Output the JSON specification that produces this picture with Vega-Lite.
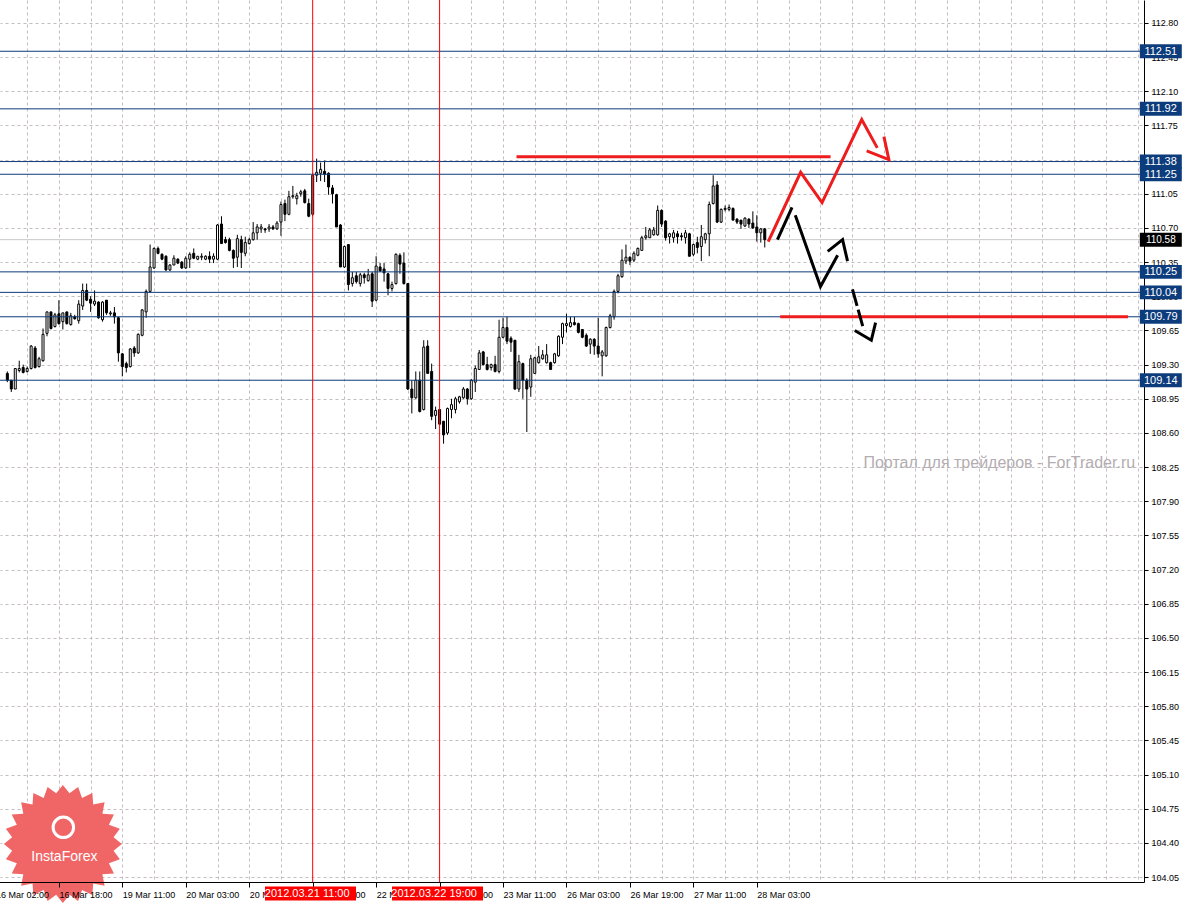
{
  "$schema": "https://vega.github.io/schema/vega-lite/v6.json",
  "autosize": {"type": "none"},
  "padding": {"left": 0, "top": 0, "right": 43, "bottom": 21},
  "width": 1144,
  "height": 882,
  "background": "white",
  "config": {"view": {"stroke": null}, "font": "Liberation Sans"},
  "resolve": {"axis": {"x": "independent"}},
  "datasets": {
    "candles": [
      {"k":0,"o":109.21,"h":109.23,"l":109.12,"c":109.14},
      {"k":1,"o":109.14,"h":109.14,"l":109.02,"c":109.05},
      {"k":2,"o":109.05,"h":109.26,"l":109.05,"c":109.26},
      {"k":3,"o":109.24,"h":109.34,"l":109.22,"c":109.26},
      {"k":4,"o":109.27,"h":109.30,"l":109.21,"c":109.22},
      {"k":5,"o":109.23,"h":109.28,"l":109.22,"c":109.26},
      {"k":6,"o":109.26,"h":109.50,"l":109.25,"c":109.49},
      {"k":7,"o":109.47,"h":109.49,"l":109.26,"c":109.27},
      {"k":8,"o":109.28,"h":109.38,"l":109.27,"c":109.36},
      {"k":9,"o":109.34,"h":109.67,"l":109.33,"c":109.61},
      {"k":10,"o":109.62,"h":109.84,"l":109.59,"c":109.84},
      {"k":11,"o":109.84,"h":109.84,"l":109.66,"c":109.67},
      {"k":12,"o":109.69,"h":109.83,"l":109.68,"c":109.81},
      {"k":13,"o":109.82,"h":109.96,"l":109.71,"c":109.72},
      {"k":14,"o":109.74,"h":109.83,"l":109.66,"c":109.83},
      {"k":15,"o":109.84,"h":109.84,"l":109.71,"c":109.72},
      {"k":16,"o":109.71,"h":109.83,"l":109.70,"c":109.80},
      {"k":17,"o":109.79,"h":109.81,"l":109.76,"c":109.77},
      {"k":18,"o":109.75,"h":109.96,"l":109.72,"c":109.92},
      {"k":19,"o":109.90,"h":110.13,"l":109.86,"c":110.06},
      {"k":20,"o":110.06,"h":110.13,"l":109.95,"c":109.96},
      {"k":21,"o":109.97,"h":110.00,"l":109.84,"c":109.93},
      {"k":22,"o":109.92,"h":110.06,"l":109.90,"c":109.95},
      {"k":23,"o":109.94,"h":109.95,"l":109.77,"c":109.78},
      {"k":24,"o":109.76,"h":109.95,"l":109.74,"c":109.94},
      {"k":25,"o":109.96,"h":109.96,"l":109.81,"c":109.83},
      {"k":26,"o":109.82,"h":109.85,"l":109.80,"c":109.83},
      {"k":27,"o":109.83,"h":109.89,"l":109.72,"c":109.79},
      {"k":28,"o":109.78,"h":109.79,"l":109.33,"c":109.42},
      {"k":29,"o":109.41,"h":109.42,"l":109.18,"c":109.28},
      {"k":30,"o":109.31,"h":109.33,"l":109.22,"c":109.27},
      {"k":31,"o":109.28,"h":109.47,"l":109.27,"c":109.46},
      {"k":32,"o":109.47,"h":109.49,"l":109.38,"c":109.42},
      {"k":33,"o":109.42,"h":109.62,"l":109.41,"c":109.61},
      {"k":34,"o":109.60,"h":109.87,"l":109.59,"c":109.86},
      {"k":35,"o":109.84,"h":110.07,"l":109.78,"c":110.05},
      {"k":36,"o":110.05,"h":110.53,"l":110.04,"c":110.30},
      {"k":37,"o":110.29,"h":110.50,"l":110.28,"c":110.49},
      {"k":38,"o":110.49,"h":110.51,"l":110.43,"c":110.44},
      {"k":39,"o":110.43,"h":110.44,"l":110.37,"c":110.38},
      {"k":40,"o":110.41,"h":110.42,"l":110.26,"c":110.27},
      {"k":41,"o":110.27,"h":110.33,"l":110.26,"c":110.32},
      {"k":42,"o":110.32,"h":110.42,"l":110.32,"c":110.39},
      {"k":43,"o":110.38,"h":110.39,"l":110.33,"c":110.34},
      {"k":44,"o":110.35,"h":110.36,"l":110.28,"c":110.29},
      {"k":45,"o":110.29,"h":110.41,"l":110.28,"c":110.39},
      {"k":46,"o":110.38,"h":110.45,"l":110.29,"c":110.43},
      {"k":47,"o":110.44,"h":110.49,"l":110.38,"c":110.39},
      {"k":48,"o":110.38,"h":110.41,"l":110.37,"c":110.41},
      {"k":49,"o":110.40,"h":110.44,"l":110.37,"c":110.41},
      {"k":50,"o":110.38,"h":110.42,"l":110.37,"c":110.41},
      {"k":51,"o":110.41,"h":110.46,"l":110.34,"c":110.38},
      {"k":52,"o":110.38,"h":110.44,"l":110.34,"c":110.41},
      {"k":53,"o":110.38,"h":110.74,"l":110.37,"c":110.73},
      {"k":54,"o":110.74,"h":110.82,"l":110.54,"c":110.54},
      {"k":55,"o":110.58,"h":110.61,"l":110.54,"c":110.55},
      {"k":56,"o":110.58,"h":110.60,"l":110.46,"c":110.47},
      {"k":57,"o":110.47,"h":110.48,"l":110.29,"c":110.39},
      {"k":58,"o":110.40,"h":110.63,"l":110.30,"c":110.59},
      {"k":59,"o":110.58,"h":110.62,"l":110.29,"c":110.45},
      {"k":60,"o":110.44,"h":110.61,"l":110.41,"c":110.55},
      {"k":61,"o":110.54,"h":110.60,"l":110.53,"c":110.58},
      {"k":62,"o":110.58,"h":110.76,"l":110.57,"c":110.65},
      {"k":63,"o":110.65,"h":110.74,"l":110.58,"c":110.71},
      {"k":64,"o":110.69,"h":110.74,"l":110.65,"c":110.71},
      {"k":65,"o":110.69,"h":110.70,"l":110.65,"c":110.68},
      {"k":66,"o":110.69,"h":110.74,"l":110.66,"c":110.71},
      {"k":67,"o":110.71,"h":110.73,"l":110.68,"c":110.69},
      {"k":68,"o":110.69,"h":110.77,"l":110.68,"c":110.75},
      {"k":69,"o":110.76,"h":110.97,"l":110.62,"c":110.94},
      {"k":70,"o":110.95,"h":110.99,"l":110.77,"c":110.84},
      {"k":71,"o":110.84,"h":111.08,"l":110.83,"c":111.02},
      {"k":72,"o":111.02,"h":111.13,"l":111.00,"c":111.03},
      {"k":73,"o":111.00,"h":111.06,"l":110.94,"c":111.03},
      {"k":74,"o":111.05,"h":111.09,"l":111.02,"c":111.07},
      {"k":75,"o":111.08,"h":111.10,"l":110.95,"c":110.96},
      {"k":76,"o":110.95,"h":111.00,"l":110.81,"c":110.82},
      {"k":77,"o":110.84,"h":111.26,"l":110.82,"c":111.24},
      {"k":78,"o":111.24,"h":111.41,"l":111.17,"c":111.27},
      {"k":79,"o":111.26,"h":111.37,"l":111.18,"c":111.30},
      {"k":80,"o":111.28,"h":111.39,"l":111.17,"c":111.25},
      {"k":81,"o":111.26,"h":111.27,"l":111.04,"c":111.12},
      {"k":82,"o":111.11,"h":111.14,"l":110.95,"c":111.05},
      {"k":83,"o":111.04,"h":111.05,"l":110.71,"c":110.71},
      {"k":84,"o":110.73,"h":110.74,"l":110.30,"c":110.30},
      {"k":85,"o":110.30,"h":110.52,"l":110.29,"c":110.51},
      {"k":86,"o":110.53,"h":110.53,"l":110.06,"c":110.12},
      {"k":87,"o":110.13,"h":110.25,"l":110.10,"c":110.19},
      {"k":88,"o":110.21,"h":110.25,"l":110.13,"c":110.15},
      {"k":89,"o":110.13,"h":110.24,"l":110.10,"c":110.22},
      {"k":90,"o":110.22,"h":110.24,"l":110.13,"c":110.19},
      {"k":91,"o":110.16,"h":110.28,"l":110.15,"c":110.22},
      {"k":92,"o":110.23,"h":110.25,"l":109.89,"c":109.95},
      {"k":93,"o":109.96,"h":110.41,"l":109.95,"c":110.31},
      {"k":94,"o":110.30,"h":110.34,"l":110.25,"c":110.26},
      {"k":95,"o":110.28,"h":110.34,"l":110.15,"c":110.24},
      {"k":96,"o":110.23,"h":110.24,"l":110.01,"c":110.08},
      {"k":97,"o":110.08,"h":110.15,"l":110.05,"c":110.12},
      {"k":98,"o":110.13,"h":110.44,"l":110.12,"c":110.43},
      {"k":99,"o":110.42,"h":110.44,"l":110.23,"c":110.33},
      {"k":100,"o":110.34,"h":110.45,"l":110.12,"c":110.13},
      {"k":101,"o":110.13,"h":110.13,"l":109.04,"c":109.05},
      {"k":102,"o":109.05,"h":109.14,"l":108.80,"c":108.96},
      {"k":103,"o":108.96,"h":109.23,"l":108.95,"c":109.14},
      {"k":104,"o":109.14,"h":109.23,"l":108.81,"c":108.82},
      {"k":105,"o":108.84,"h":109.55,"l":108.83,"c":109.48},
      {"k":106,"o":109.49,"h":109.55,"l":109.21,"c":109.21},
      {"k":107,"o":109.23,"h":109.31,"l":108.73,"c":108.77},
      {"k":108,"o":108.78,"h":108.87,"l":108.64,"c":108.83},
      {"k":109,"o":108.84,"h":108.84,"l":108.68,"c":108.69},
      {"k":110,"o":108.72,"h":108.72,"l":108.49,"c":108.58},
      {"k":111,"o":108.60,"h":108.86,"l":108.58,"c":108.85},
      {"k":112,"o":108.84,"h":108.95,"l":108.75,"c":108.89},
      {"k":113,"o":108.84,"h":108.97,"l":108.80,"c":108.95},
      {"k":114,"o":108.92,"h":108.98,"l":108.90,"c":108.97},
      {"k":115,"o":108.96,"h":109.07,"l":108.95,"c":109.05},
      {"k":116,"o":109.05,"h":109.06,"l":108.89,"c":108.95},
      {"k":117,"o":108.95,"h":109.15,"l":108.94,"c":109.14},
      {"k":118,"o":109.12,"h":109.29,"l":109.02,"c":109.26},
      {"k":119,"o":109.25,"h":109.45,"l":109.25,"c":109.42},
      {"k":120,"o":109.43,"h":109.44,"l":109.29,"c":109.30},
      {"k":121,"o":109.30,"h":109.38,"l":109.24,"c":109.25},
      {"k":122,"o":109.27,"h":109.31,"l":109.24,"c":109.30},
      {"k":123,"o":109.30,"h":109.39,"l":109.22,"c":109.23},
      {"k":124,"o":109.23,"h":109.76,"l":109.21,"c":109.58},
      {"k":125,"o":109.58,"h":109.78,"l":109.57,"c":109.68},
      {"k":126,"o":109.68,"h":109.79,"l":109.51,"c":109.54},
      {"k":127,"o":109.57,"h":109.59,"l":109.43,"c":109.53},
      {"k":128,"o":109.55,"h":109.55,"l":109.04,"c":109.05},
      {"k":129,"o":109.05,"h":109.40,"l":109.02,"c":109.33},
      {"k":130,"o":109.31,"h":109.32,"l":108.95,"c":109.14},
      {"k":131,"o":109.14,"h":109.16,"l":108.61,"c":109.05},
      {"k":132,"o":109.07,"h":109.40,"l":108.97,"c":109.36},
      {"k":133,"o":109.21,"h":109.38,"l":109.21,"c":109.37},
      {"k":134,"o":109.32,"h":109.49,"l":109.31,"c":109.38},
      {"k":135,"o":109.36,"h":109.45,"l":109.35,"c":109.40},
      {"k":136,"o":109.32,"h":109.51,"l":109.31,"c":109.40},
      {"k":137,"o":109.32,"h":109.33,"l":109.25,"c":109.25},
      {"k":138,"o":109.32,"h":109.42,"l":109.31,"c":109.41},
      {"k":139,"o":109.39,"h":109.60,"l":109.38,"c":109.59},
      {"k":140,"o":109.58,"h":109.73,"l":109.51,"c":109.72},
      {"k":141,"o":109.70,"h":109.82,"l":109.63,"c":109.72},
      {"k":142,"o":109.69,"h":109.79,"l":109.68,"c":109.73},
      {"k":143,"o":109.73,"h":109.79,"l":109.70,"c":109.71},
      {"k":144,"o":109.72,"h":109.73,"l":109.62,"c":109.63},
      {"k":145,"o":109.66,"h":109.66,"l":109.57,"c":109.58},
      {"k":146,"o":109.60,"h":109.62,"l":109.48,"c":109.49},
      {"k":147,"o":109.51,"h":109.57,"l":109.41,"c":109.56},
      {"k":148,"o":109.56,"h":109.57,"l":109.40,"c":109.49},
      {"k":149,"o":109.49,"h":109.78,"l":109.37,"c":109.41},
      {"k":150,"o":109.39,"h":109.45,"l":109.18,"c":109.43},
      {"k":151,"o":109.39,"h":109.69,"l":109.38,"c":109.68},
      {"k":152,"o":109.68,"h":109.82,"l":109.67,"c":109.80},
      {"k":153,"o":109.79,"h":110.07,"l":109.76,"c":110.05},
      {"k":154,"o":110.05,"h":110.23,"l":110.03,"c":110.21},
      {"k":155,"o":110.20,"h":110.48,"l":110.19,"c":110.37},
      {"k":156,"o":110.36,"h":110.53,"l":110.33,"c":110.40},
      {"k":157,"o":110.40,"h":110.41,"l":110.32,"c":110.36},
      {"k":158,"o":110.37,"h":110.46,"l":110.35,"c":110.44},
      {"k":159,"o":110.42,"h":110.50,"l":110.41,"c":110.49},
      {"k":160,"o":110.47,"h":110.62,"l":110.47,"c":110.60},
      {"k":161,"o":110.60,"h":110.71,"l":110.58,"c":110.62},
      {"k":162,"o":110.60,"h":110.70,"l":110.60,"c":110.68},
      {"k":163,"o":110.63,"h":110.71,"l":110.62,"c":110.68},
      {"k":164,"o":110.63,"h":110.93,"l":110.62,"c":110.88},
      {"k":165,"o":110.88,"h":110.89,"l":110.71,"c":110.74},
      {"k":166,"o":110.77,"h":110.78,"l":110.57,"c":110.60},
      {"k":167,"o":110.61,"h":110.65,"l":110.54,"c":110.64},
      {"k":168,"o":110.60,"h":110.68,"l":110.55,"c":110.65},
      {"k":169,"o":110.64,"h":110.67,"l":110.54,"c":110.61},
      {"k":170,"o":110.62,"h":110.65,"l":110.57,"c":110.61},
      {"k":171,"o":110.60,"h":110.68,"l":110.54,"c":110.65},
      {"k":172,"o":110.64,"h":110.65,"l":110.41,"c":110.41},
      {"k":173,"o":110.43,"h":110.54,"l":110.41,"c":110.53},
      {"k":174,"o":110.55,"h":110.61,"l":110.44,"c":110.50},
      {"k":175,"o":110.51,"h":110.73,"l":110.36,"c":110.61},
      {"k":176,"o":110.58,"h":110.65,"l":110.54,"c":110.64},
      {"k":177,"o":110.64,"h":110.97,"l":110.41,"c":110.94},
      {"k":178,"o":110.95,"h":111.24,"l":110.94,"c":111.13},
      {"k":179,"o":111.14,"h":111.18,"l":110.75,"c":110.76},
      {"k":180,"o":110.76,"h":110.90,"l":110.75,"c":110.89},
      {"k":181,"o":110.89,"h":110.93,"l":110.87,"c":110.90},
      {"k":182,"o":110.89,"h":110.94,"l":110.87,"c":110.91},
      {"k":183,"o":110.90,"h":110.91,"l":110.78,"c":110.78},
      {"k":184,"o":110.79,"h":110.80,"l":110.74,"c":110.76},
      {"k":185,"o":110.78,"h":110.78,"l":110.69,"c":110.74},
      {"k":186,"o":110.72,"h":110.81,"l":110.71,"c":110.80},
      {"k":187,"o":110.79,"h":110.80,"l":110.70,"c":110.74},
      {"k":188,"o":110.75,"h":110.87,"l":110.69,"c":110.70},
      {"k":189,"o":110.71,"h":110.83,"l":110.56,"c":110.65},
      {"k":190,"o":110.65,"h":110.70,"l":110.55,"c":110.69},
      {"k":191,"o":110.69,"h":110.70,"l":110.50,"c":110.58}
    ],
    "levels": [
      {"level":112.51},{"level":111.92},{"level":111.38},{"level":111.25},
      {"level":110.25},{"level":110.04},{"level":109.79},{"level":109.14}
    ],
    "bid": [{"level":110.58}],
    "vlines": [
      {"k":77,"label":"2012.03.21 11:00"},
      {"k":109,"label":"2012.03.22 19:00"}
    ],
    "redsegs": [
      {"k1":128.4,"k2":207.6,"p":111.43},
      {"k1":194.9,"k2":282.6,"p":109.79}
    ],
    "redpath": [
      {"g":"a","i":0,"k":191.875,"p":110.56},
      {"g":"a","i":1,"k":200.05,"p":111.27},
      {"g":"a","i":2,"k":205.45,"p":110.96},
      {"g":"a","i":3,"k":215.45,"p":111.81},
      {"g":"a","i":4,"k":219.375,"p":111.52},
      {"g":"b","i":0,"k":216.7,"p":111.49},
      {"g":"b","i":1,"k":222.3,"p":111.40},
      {"g":"b","i":2,"k":221.05,"p":111.635}
    ],
    "blackpath": [
      {"g":"a","i":0,"k":194.2,"p":110.58},
      {"g":"a","i":1,"k":197.875,"p":110.91},
      {"g":"b","i":0,"k":198.7,"p":110.83},
      {"g":"b","i":1,"k":205.05,"p":110.10},
      {"g":"b","i":2,"k":209.375,"p":110.42},
      {"g":"c","i":0,"k":206.875,"p":110.46},
      {"g":"c","i":1,"k":210.625,"p":110.58},
      {"g":"c","i":2,"k":211.875,"p":110.36},
      {"g":"d","i":0,"k":213.7,"p":109.65},
      {"g":"d","i":1,"k":217.875,"p":109.55},
      {"g":"d","i":2,"k":218.95,"p":109.73}
    ],
    "blackdash": [
      {"g":"a","i":0,"k":213.125,"p":110.07},
      {"g":"a","i":1,"k":215.875,"p":109.67}
    ],
    "notes": [{"note":"Портал для трейдеров - ForTrader.ru"}],
    "logo": [{"name":"InstaForex"}]
  },
  "layer": [
    {
      "data": {"name": "bid"},
      "mark": {"type": "rule", "color": "#c8c8c8", "strokeWidth": 1},
      "encoding": {"y": {"field": "level", "type": "quantitative", "title": null}}
    },
    {
      "data": {"name": "logo"},
      "mark": {"type": "point", "shape": "M1,0L0.86,0.113L0.966,0.259L0.78,0.325L0.866,0.5L0.67,0.514L0.707,0.707L0.514,0.67L0.5,0.866L0.325,0.78L0.259,0.966L0.113,0.86L0,1L-0.113,0.86L-0.259,0.966L-0.325,0.78L-0.5,0.866L-0.514,0.67L-0.707,0.707L-0.67,0.514L-0.866,0.5L-0.78,0.325L-0.966,0.259L-0.86,0.113L-1,0L-0.86,-0.113L-0.966,-0.259L-0.78,-0.325L-0.866,-0.5L-0.67,-0.514L-0.707,-0.707L-0.514,-0.67L-0.5,-0.866L-0.325,-0.78L-0.259,-0.966L-0.113,-0.86L0,-1L0.113,-0.86L0.259,-0.966L0.325,-0.78L0.5,-0.866L0.514,-0.67L0.707,-0.707L0.67,-0.514L0.866,-0.5L0.78,-0.325L0.966,-0.259L0.86,-0.113Z", "size": 13924, "filled": true, "color": "#f06666", "opacity": 1, "strokeWidth": 0},
      "encoding": {
        "x": {"datum": 14.0, "type": "quantitative", "title": null, "axis": null},
        "y": {"datum": 104.389, "type": "quantitative", "title": null}
      }
    },
    {
      "data": {"name": "logo"},
      "mark": {"type": "point", "shape": "circle", "size": 420, "filled": false, "color": "white", "opacity": 1, "strokeWidth": 3},
      "encoding": {
        "x": {"datum": 14.125, "type": "quantitative", "title": null, "axis": null},
        "y": {"datum": 104.56, "type": "quantitative", "title": null}
      }
    },
    {
      "data": {"name": "logo"},
      "mark": {"type": "text", "color": "white", "fontSize": 14, "font": "Liberation Sans", "align": "center", "baseline": "middle"},
      "encoding": {
        "x": {"datum": 14.375, "type": "quantitative", "title": null, "axis": null},
        "y": {"datum": 104.256, "type": "quantitative", "title": null},
        "text": {"field": "name"}
      }
    },
    {
      "data": {"name": "candles"},
      "mark": {"type": "rule", "color": "black", "strokeWidth": 1},
      "encoding": {
        "x": {
          "field": "k", "type": "quantitative", "title": null,
          "scale": {"domain": [-4.625, 285.375], "range": [-16, 1144], "nice": false, "zero": false},
          "axis": {
            "orient": "bottom",
            "values": [-3,5,13,21,29,37,45,53,61,69,85,93,101,117,125,133,141,149,157,165,173,181,189,197,205,213,221,229,237,245,253,261,269,277,285],
            "tickCount": 200,
            "labels": false,
            "ticks": false,
            "domain": false,
            "grid": true,
            "gridColor": "#c3bcc3",
            "gridDash": [3, 3],
            "gridWidth": 1,
            "zindex": 0
          }
        },
        "y": {
          "field": "l", "type": "quantitative", "title": null,
          "scale": {"domain": [104.0, 113.035], "nice": false, "zero": false},
          "axis": {
            "orient": "right",
            "values": [104.05,104.4,104.75,105.1,105.45,105.8,106.15,106.5,106.85,107.2,107.55,107.9,108.25,108.6,108.95,109.3,109.65,110.0,110.35,110.7,111.05,111.4,111.75,112.1,112.45,112.8],
            "tickCount": 200,
            "format": ".2f",
            "labelFontSize": 9,
            "labelFont": "Liberation Sans",
            "labelColor": "black",
            "labelPadding": 3,
            "labelOverlap": false,
            "labelFlush": false,
            "tickSize": 4,
            "tickColor": "black",
            "domainColor": "black",
            "grid": true,
            "gridColor": "#c3bcc3",
            "gridDash": [3, 3],
            "gridWidth": 1
          }
        },
        "y2": {"field": "h"}
      }
    },
    {
      "data": {"name": "candles"},
      "mark": {"type": "bar", "size": 2, "stroke": "black", "strokeWidth": 1},
      "encoding": {
        "x": {
          "field": "k", "type": "quantitative", "title": null,
          "axis": {
            "orient": "bottom",
            "values": [-3,13,29,45,61,77,93,109,125,141,157,173,189],
            "tickCount": 200,
            "labelExpr": "['16 Mar 02:00','16 Mar 18:00','19 Mar 11:00','20 Mar 03:00','20 Mar 19:00','21 Mar 11:00','22 Mar 03:00','22 Mar 19:00','23 Mar 11:00','26 Mar 03:00','26 Mar 19:00','27 Mar 11:00','28 Mar 03:00'][(datum.value + 3) / 16] || ''",
            "labelAlign": "left",
            "labelBaseline": "top",
            "labelPadding": 3,
            "labelFontSize": 9,
            "labelFont": "Liberation Sans",
            "labelColor": "black",
            "labelOverlap": false,
            "labelFlush": false,
            "tickSize": 5,
            "tickColor": "black",
            "domainColor": "black",
            "grid": false,
            "zindex": 1
          }
        },
        "y": {"field": "o", "type": "quantitative", "title": null},
        "y2": {"field": "c"},
        "fill": {"condition": {"test": "datum.c > datum.o", "value": "white"}, "value": "black"}
      }
    },
    {
      "data": {"name": "levels"},
      "mark": {"type": "rule", "color": "#0c3b7b", "strokeWidth": 1},
      "encoding": {"y": {"field": "level", "type": "quantitative", "title": null}}
    },
    {
      "data": {"name": "redsegs"},
      "mark": {"type": "rule", "color": "#ee1c1c", "strokeWidth": 3},
      "encoding": {
        "x": {"field": "k1", "type": "quantitative", "title": null, "axis": null},
        "x2": {"field": "k2"},
        "y": {"field": "p", "type": "quantitative", "title": null}
      }
    },
    {
      "data": {"name": "redpath"},
      "mark": {"type": "line", "color": "#ee1c1c", "strokeWidth": 3},
      "encoding": {
        "x": {"field": "k", "type": "quantitative", "title": null, "axis": null},
        "y": {"field": "p", "type": "quantitative", "title": null},
        "detail": {"field": "g"},
        "order": {"field": "i"}
      }
    },
    {
      "data": {"name": "blackpath"},
      "mark": {"type": "line", "color": "black", "strokeWidth": 3},
      "encoding": {
        "x": {"field": "k", "type": "quantitative", "title": null, "axis": null},
        "y": {"field": "p", "type": "quantitative", "title": null},
        "detail": {"field": "g"},
        "order": {"field": "i"}
      }
    },
    {
      "data": {"name": "blackdash"},
      "mark": {"type": "line", "color": "black", "strokeWidth": 3, "strokeDash": [17, 4]},
      "encoding": {
        "x": {"field": "k", "type": "quantitative", "title": null, "axis": null},
        "y": {"field": "p", "type": "quantitative", "title": null},
        "detail": {"field": "g"},
        "order": {"field": "i"}
      }
    },
    {
      "data": {"name": "levels"},
      "mark": {"type": "point", "shape": "M-1,-0.333H1V0.333H-1Z", "size": 1764, "filled": true, "color": "#0d3c7c", "opacity": 1, "strokeWidth": 0},
      "encoding": {
        "x": {"datum": 290.875, "type": "quantitative", "title": null, "axis": null},
        "y": {"field": "level", "type": "quantitative", "title": null}
      }
    },
    {
      "data": {"name": "bid"},
      "mark": {"type": "point", "shape": "M-1,-0.333H1V0.333H-1Z", "size": 1764, "filled": true, "color": "black", "opacity": 1, "strokeWidth": 0},
      "encoding": {
        "x": {"datum": 290.875, "type": "quantitative", "title": null, "axis": null},
        "y": {"field": "level", "type": "quantitative", "title": null}
      }
    },
    {
      "data": {"name": "levels"},
      "mark": {"type": "text", "color": "white", "fontSize": 11, "font": "Liberation Sans", "align": "center", "baseline": "middle", "dy": 0.5},
      "encoding": {
        "x": {"datum": 290.875, "type": "quantitative", "title": null, "axis": null},
        "y": {"field": "level", "type": "quantitative", "title": null},
        "text": {"field": "level", "type": "quantitative", "format": ".2f"}
      }
    },
    {
      "data": {"name": "bid"},
      "mark": {"type": "text", "color": "white", "fontSize": 10, "font": "Liberation Sans", "align": "center", "baseline": "middle", "dy": 0.5},
      "encoding": {
        "x": {"datum": 290.875, "type": "quantitative", "title": null, "axis": null},
        "y": {"field": "level", "type": "quantitative", "title": null},
        "text": {"field": "level", "type": "quantitative", "format": ".2f"}
      }
    },
    {
      "data": {"name": "notes"},
      "mark": {"type": "text", "color": "#b3adb0", "fontSize": 16, "font": "Liberation Sans", "align": "right", "baseline": "middle"},
      "encoding": {
        "x": {"datum": 284.4, "type": "quantitative", "title": null, "axis": null},
        "y": {"datum": 108.29, "type": "quantitative", "title": null},
        "text": {"field": "note"}
      }
    },
    {
      "data": {"name": "vlines"},
      "mark": {"type": "rule", "color": "#ff0000", "strokeWidth": 1, "opacity": 1},
      "encoding": {
        "x": {
          "field": "k", "type": "quantitative", "title": null,
          "axis": {
            "orient": "bottom",
            "values": [77, 109],
            "tickCount": 200,
            "offset": 4,
            "domain": false,
            "grid": false,
            "ticks": true,
            "tickSize": 14,
            "tickWidth": 91,
            "tickColor": "#ff0000",
            "tickOffset": -3,
            "tickCap": "butt",
            "labelExpr": "datum.value == 77 ? '2012.03.21 11:00' : '2012.03.22 19:00'",
            "labelColor": "white",
            "labelFont": "Liberation Sans",
            "labelFontSize": 11,
            "labelAlign": "center",
            "labelBaseline": "middle",
            "labelPadding": -6.5,
            "labelOffset": -3,
            "labelOverlap": false,
            "labelFlush": false,
            "zindex": 2
          }
        }
      }
    }
  ]
}
